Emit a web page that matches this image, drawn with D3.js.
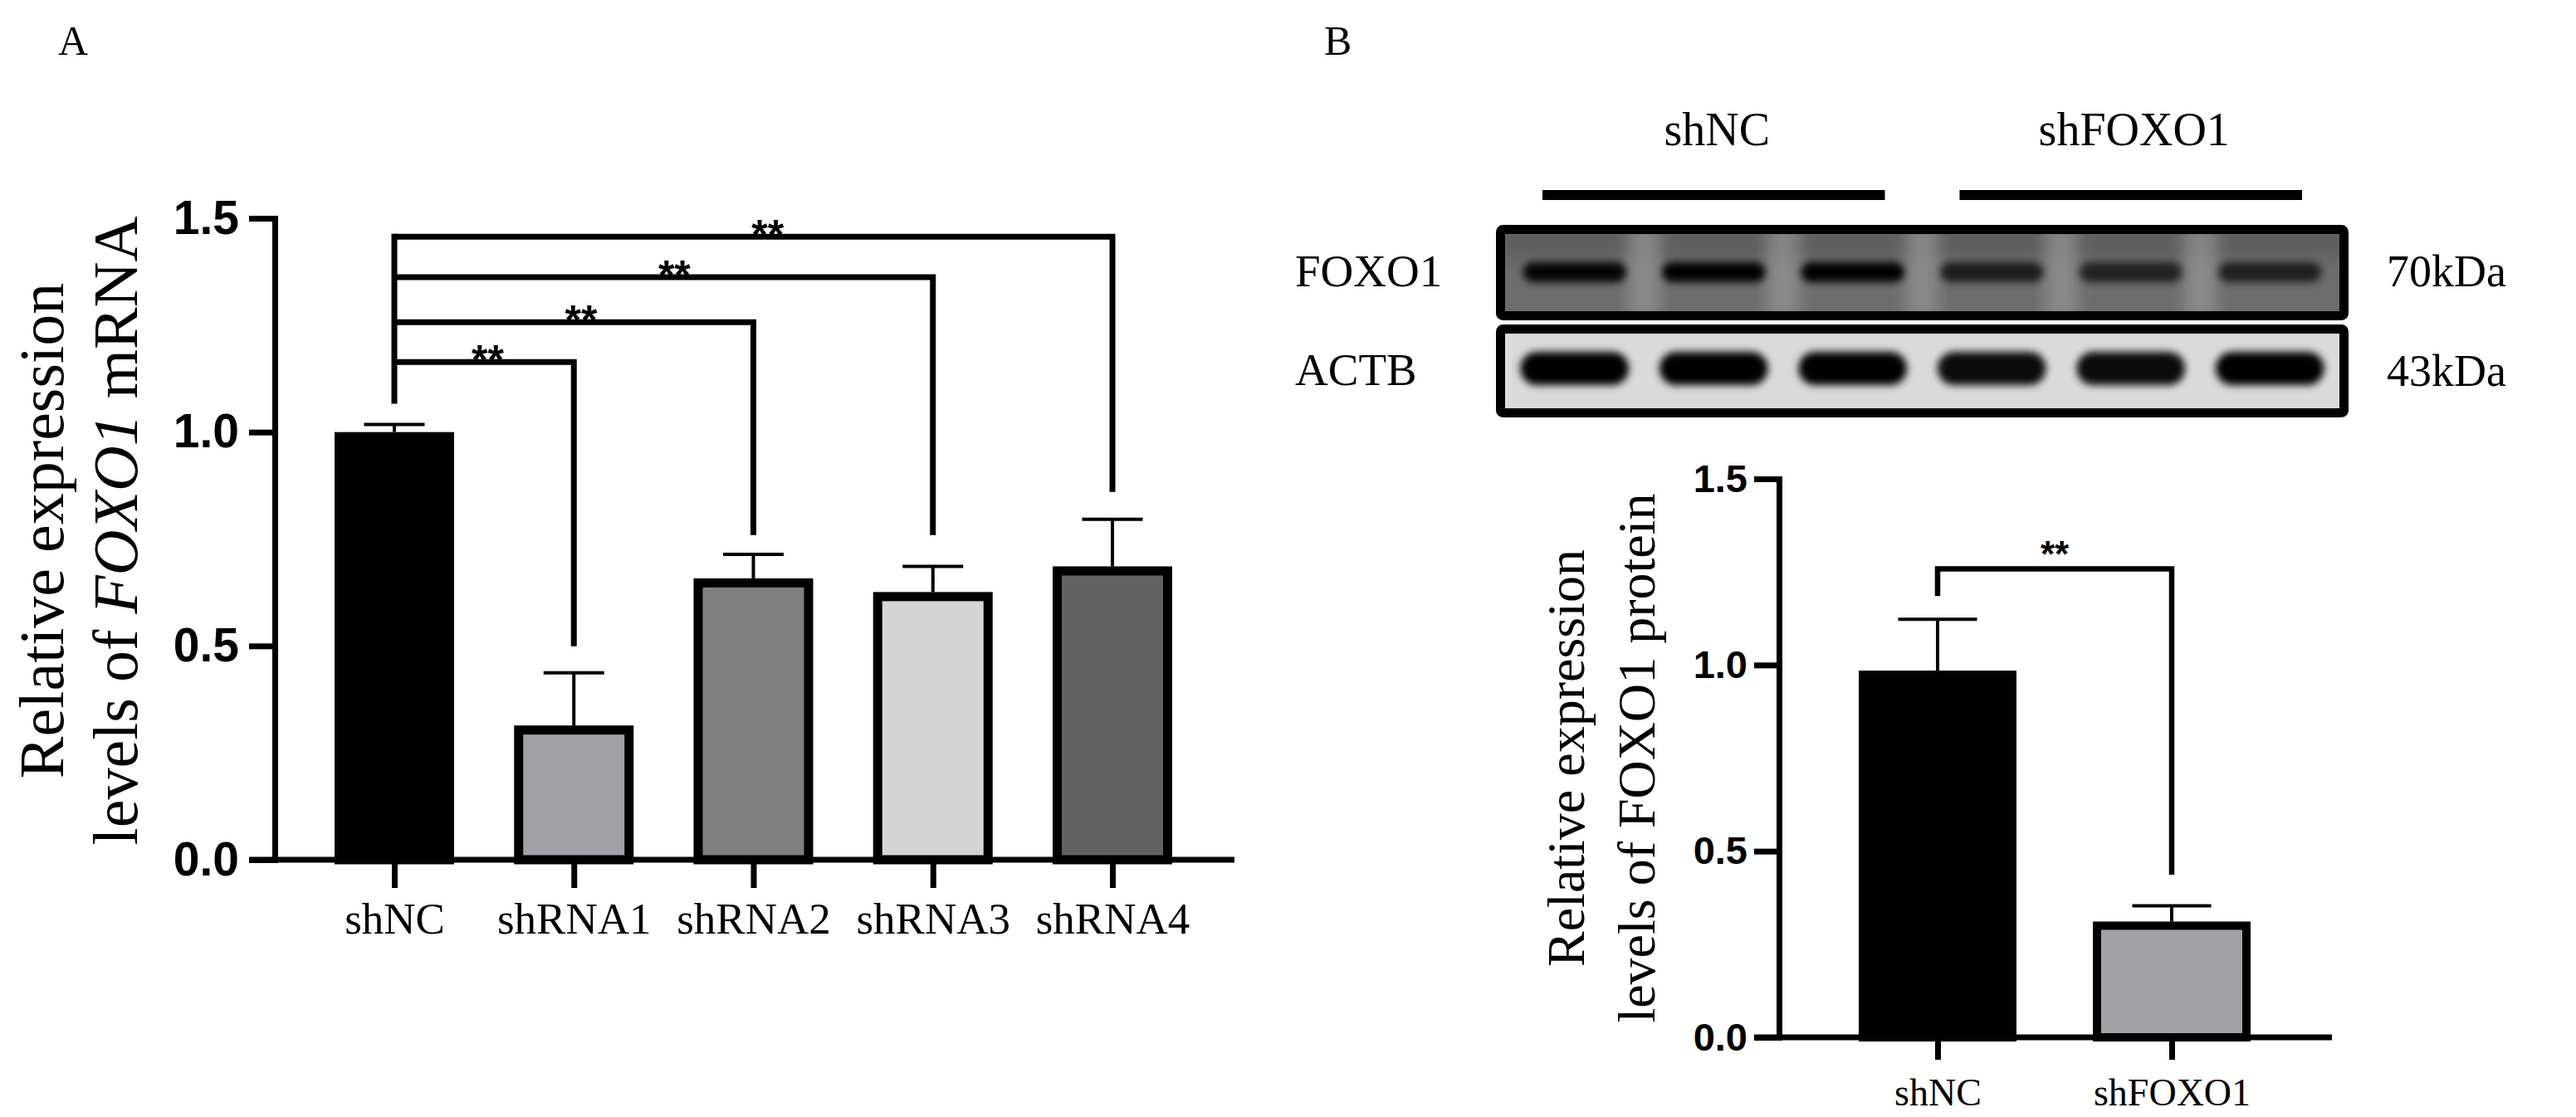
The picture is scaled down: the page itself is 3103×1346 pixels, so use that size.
<!DOCTYPE html>
<html><head><meta charset="utf-8">
<script src="https://cdn.jsdelivr.net/npm/d3@7"></script>
<style>body{margin:0;background:#fff} svg{display:block}</style>
</head><body>
<svg id="chart" width="3103" height="1346"></svg>
<script>
// ---------------- DATA ----------------
// Panel A: qPCR
const A_categories = ["shNC", "shRNA1", "shRNA2", "shRNA3", "shRNA4"];
const A_values = [1.0, 0.314, 0.658, 0.626, 0.686];
const A_errors = [0.018, 0.123, 0.056, 0.060, 0.110];
const A_fills = ["#000000", "#a1a1a5", "#808080", "#d4d4d4", "#616161"];
const A_ticks = [0, 0.5, 1.0, 1.5];
const A_bracketTargets = ["shRNA1", "shRNA2", "shRNA3", "shRNA4"];
const A_bracketLevels = [1.164, 1.257, 1.362, 1.457];
const A_bracketEnds = [0.499, 0.759, 0.759, 0.860];
const A_bracketStart = 1.073;
const A_sigLabels = ["**", "**", "**", "**"];

// Panel B: western blot quantification
const B_categories = ["shNC", "shFOXO1"];
const B_values = [0.985, 0.311];
const B_errors = [0.138, 0.042];
const B_fills = ["#000000", "#a1a1a5"];
const B_ticks = [0, 0.5, 1.0, 1.5];
const B_bracketLevel = 1.258;
const B_bracketStart = 1.185;
const B_bracketEnd = 0.437;
const B_sigLabel = "**";

// Blot
const blotGroups = ["shNC", "shFOXO1"];
const blotLaneGroup = ["shNC", "shNC", "shNC", "shFOXO1", "shFOXO1", "shFOXO1"];
const blotProteins = ["FOXO1", "ACTB"];
const blotSizes = ["70kDa", "43kDa"];
const foxo1Intensity = [0.95, 1.0, 1.0, 0.72, 0.68, 0.7];
const actbIntensity = [1.0, 1.0, 1.0, 0.95, 0.95, 1.0];

// ---------------- DRAW ----------------
const svg = d3.select("#chart");
svg.append("rect").attr("width", 3103).attr("height", 1346).attr("fill", "#fff");
const serif = "'Liberation Serif','Times New Roman',serif";
const sans = "'Liberation Sans',Arial,sans-serif";

const defs = svg.append("defs");
defs.append("filter").attr("id", "blur5").attr("x", "-50%").attr("y", "-100%").attr("width", "200%").attr("height", "300%")
  .append("feGaussianBlur").attr("stdDeviation", 5);
defs.append("filter").attr("id", "blur8").attr("x", "-50%").attr("y", "-50%").attr("width", "200%").attr("height", "200%")
  .append("feGaussianBlur").attr("stdDeviation", 9);

// Panel letters
svg.append("text").attr("x", 70).attr("y", 66).attr("font-family", serif).attr("font-size", 50).text("A");
svg.append("text").attr("x", 1595).attr("y", 66).attr("font-family", serif).attr("font-size", 50).text("B");

// ===== Panel A =====
const yA = d3.scaleLinear().domain([0, 1.5]).range([1036, 263]);
const xA = d3.scalePoint().domain(A_categories).range([475, 1340]);
const gA = svg.append("g");
const barWA = 144, swA = 11;

A_categories.forEach((c, i) => {
  const x = xA(c), yv = yA(A_values[i]);
  gA.append("rect")
    .attr("x", x - barWA / 2 + swA / 2).attr("y", yv + swA / 2)
    .attr("width", barWA - swA).attr("height", yA(0) - yv - swA / 2)
    .attr("fill", A_fills[i]).attr("stroke", "#000").attr("stroke-width", swA);
  const ye = yA(A_values[i] + A_errors[i]);
  gA.append("line").attr("x1", x).attr("x2", x).attr("y1", yv).attr("y2", ye)
    .attr("stroke", "#000").attr("stroke-width", 4);
  gA.append("line").attr("x1", x - 36.5).attr("x2", x + 36.5).attr("y1", ye).attr("y2", ye)
    .attr("stroke", "#000").attr("stroke-width", 4);
});

// y axis A
const axA = d3.axisLeft(yA).tickValues(A_ticks).tickFormat(d3.format(".1f"))
  .tickSize(31).tickPadding(12).tickSizeOuter(0);
const gyA = gA.append("g").attr("transform", "translate(331,0)").call(axA);
gyA.select(".domain").attr("stroke-width", 7).attr("stroke-linecap", "square");
gyA.selectAll(".tick line").attr("stroke-width", 7);
gyA.selectAll(".tick text").attr("font-family", sans).attr("font-weight", "bold")
  .attr("font-size", 57).attr("fill", "#000");

// x axis A
gA.append("line").attr("x1", 300).attr("x2", 1487).attr("y1", yA(0)).attr("y2", yA(0))
  .attr("stroke", "#000").attr("stroke-width", 7);
const gxA = gA.append("g").attr("transform", `translate(0,${yA(0)})`)
  .call(d3.axisBottom(xA).tickSize(34).tickSizeOuter(0));
gxA.select(".domain").remove();
gxA.selectAll(".tick line").attr("stroke-width", 7);
gxA.selectAll(".tick text").attr("font-family", serif).attr("font-size", 53).attr("fill", "#000")
  .attr("y", 89).attr("dy", null);

// brackets A
const x0A = xA(A_categories[0]);
gA.append("line").attr("x1", x0A).attr("x2", x0A)
  .attr("y1", yA(d3.max(A_bracketLevels))).attr("y2", yA(A_bracketStart))
  .attr("stroke", "#000").attr("stroke-width", 7).attr("stroke-linecap", "square");
A_bracketTargets.forEach((t, i) => {
  const x1 = xA(t), yl = yA(A_bracketLevels[i]);
  gA.append("path")
    .attr("d", `M${x0A},${yl}H${x1}V${yA(A_bracketEnds[i])}`)
    .attr("fill", "none").attr("stroke", "#000").attr("stroke-width", 7).attr("stroke-linejoin", "miter");
  gA.append("text").attr("x", (x0A + x1) / 2 + (x1 - x0A) * 0.02).attr("y", yl + 15)
    .attr("text-anchor", "middle").attr("font-family", sans).attr("font-weight", "bold")
    .attr("font-size", 50).text(A_sigLabels[i]);
});

// y title A
const midA = (yA(0) + yA(1.5)) / 2 - 10;
gA.append("text").attr("transform", `translate(76,${midA}) rotate(-90)`)
  .attr("text-anchor", "middle").attr("font-family", serif).attr("font-size", 76)
  .text("Relative expression");
const tA2 = gA.append("text").attr("transform", `translate(165,${midA}) rotate(-90)`)
  .attr("text-anchor", "middle").attr("font-family", serif).attr("font-size", 76);
tA2.append("tspan").text("levels of ");
tA2.append("tspan").attr("font-style", "italic").text("FOXO1");
tA2.append("tspan").text(" mRNA");

// ===== Blot =====
const gBl = svg.append("g");
const laneScale = d3.scaleBand().domain(d3.range(blotLaneGroup.length)).range([1813, 2818]);
const rows = [{top: 271, h: 115, bg: "#6c6c6c"}, {top: 391, h: 112, bg: "#dadada"}];
const rowBandY = [328, 444];
const rowBandH = [24, 40];
const rowIntensity = [foxo1Intensity, actbIntensity];
const boxX = 1802, boxW = 1027, boxSW = 11;

rows.forEach((r, ri) => {
  const cid = "clip" + ri;
  defs.append("clipPath").attr("id", cid).append("rect")
    .attr("x", boxX + boxSW).attr("y", r.top + boxSW).attr("width", boxW - 2 * boxSW).attr("height", r.h - 2 * boxSW);
  const g = gBl.append("g").attr("clip-path", `url(#${cid})`);
  g.append("rect").attr("x", boxX).attr("y", r.top).attr("width", boxW).attr("height", r.h).attr("fill", r.bg);
  if (ri === 0) {
    g.append("rect").attr("x", boxX).attr("y", r.top).attr("width", boxW).attr("height", 40)
      .attr("fill", "#555").attr("opacity", 0.55).attr("filter", "url(#blur8)");
    laneScale.domain().slice(1).forEach(l => {
      g.append("rect").attr("x", laneScale(l) - 20).attr("y", r.top).attr("width", 40).attr("height", r.h)
        .attr("fill", "#959595").attr("opacity", 0.7).attr("filter", "url(#blur8)");
    });
  }
  laneScale.domain().forEach(l => {
    const cx = laneScale(l) + laneScale.bandwidth() / 2;
    const w = laneScale.bandwidth() * (ri === 0 ? 0.74 : 0.78);
    g.append("rect").attr("x", cx - w / 2).attr("y", rowBandY[ri] - rowBandH[ri] / 2)
      .attr("width", w).attr("height", rowBandH[ri]).attr("rx", rowBandH[ri] / 2)
      .attr("fill", "#000").attr("opacity", rowIntensity[ri][l]).attr("filter", "url(#blur5)");
  });
  gBl.append("rect").attr("x", boxX + boxSW / 2).attr("y", r.top + boxSW / 2)
    .attr("width", boxW - boxSW).attr("height", r.h - boxSW).attr("rx", 3)
    .attr("fill", "none").attr("stroke", "#000").attr("stroke-width", boxSW);
  gBl.append("text").attr("x", 1560).attr("y", rowBandY[ri] + (ri === 0 ? 17 : 20))
    .attr("font-family", serif).attr("font-size", 55).text(blotProteins[ri]);
  gBl.append("text").attr("x", 2875).attr("y", rowBandY[ri] + (ri === 0 ? 17 : 21))
    .attr("font-family", serif).attr("font-size", 54).text(blotSizes[ri]);
});

blotGroups.forEach(gname => {
  const lanes = laneScale.domain().filter(l => blotLaneGroup[l] === gname);
  const xs = laneScale(lanes[0]) + 45;
  const xe = laneScale(lanes[lanes.length - 1]) + laneScale.bandwidth() - 45;
  gBl.append("rect").attr("x", xs).attr("y", 229).attr("width", xe - xs).attr("height", 12).attr("fill", "#000");
  gBl.append("text").attr("x", (xs + xe) / 2 + 4).attr("y", 175).attr("text-anchor", "middle")
    .attr("font-family", serif).attr("font-size", 56).text(gname);
});

// ===== Panel B chart =====
const yB = d3.scaleLinear().domain([0, 1.5]).range([1250, 577]);
const xB = d3.scalePoint().domain(B_categories).range([2334, 2616]);
const gB = svg.append("g");
const barWB = 190, swB = 10;
B_categories.forEach((c, i) => {
  const x = xB(c), yv = yB(B_values[i]);
  gB.append("rect")
    .attr("x", x - barWB / 2 + swB / 2).attr("y", yv + swB / 2)
    .attr("width", barWB - swB).attr("height", yB(0) - yv - swB / 2)
    .attr("fill", B_fills[i]).attr("stroke", "#000").attr("stroke-width", swB);
  const ye = yB(B_values[i] + B_errors[i]);
  gB.append("line").attr("x1", x).attr("x2", x).attr("y1", yv).attr("y2", ye)
    .attr("stroke", "#000").attr("stroke-width", 4);
  gB.append("line").attr("x1", x - 47.5).attr("x2", x + 47.5).attr("y1", ye).attr("y2", ye)
    .attr("stroke", "#000").attr("stroke-width", 4);
});

const axB = d3.axisLeft(yB).tickValues(B_ticks).tickFormat(d3.format(".1f"))
  .tickSize(30).tickPadding(8).tickSizeOuter(0);
const gyB = gB.append("g").attr("transform", "translate(2143,0)").call(axB);
gyB.select(".domain").attr("stroke-width", 7).attr("stroke-linecap", "square");
gyB.selectAll(".tick line").attr("stroke-width", 7);
gyB.selectAll(".tick text").attr("font-family", sans).attr("font-weight", "bold")
  .attr("font-size", 47).attr("fill", "#000");

gB.append("line").attr("x1", 2113).attr("x2", 2809).attr("y1", yB(0)).attr("y2", yB(0))
  .attr("stroke", "#000").attr("stroke-width", 7);
const gxB = gB.append("g").attr("transform", `translate(0,${yB(0)})`)
  .call(d3.axisBottom(xB).tickSize(27).tickSizeOuter(0));
gxB.select(".domain").remove();
gxB.selectAll(".tick line").attr("stroke-width", 7);
gxB.selectAll(".tick text").attr("font-family", serif).attr("font-size", 46).attr("fill", "#000")
  .attr("y", 82).attr("dy", null);

const xb0 = xB(B_categories[0]), xb1 = xB(B_categories[1]);
gB.append("path")
  .attr("d", `M${xb0},${yB(B_bracketStart)}V${yB(B_bracketLevel)}H${xb1}V${yB(B_bracketEnd)}`)
  .attr("fill", "none").attr("stroke", "#000").attr("stroke-width", 6.5).attr("stroke-linejoin", "miter");
gB.append("text").attr("x", (xb0 + xb1) / 2).attr("y", yB(B_bracketLevel) - 3)
  .attr("text-anchor", "middle").attr("font-family", sans).attr("font-weight", "bold")
  .attr("font-size", 44).text(B_sigLabel);

const midB = (yB(0) + yB(1.5)) / 2;
gB.append("text").attr("transform", `translate(1908,${midB}) rotate(-90)`)
  .attr("text-anchor", "middle").attr("font-family", serif).attr("font-size", 64)
  .text("Relative expression");
gB.append("text").attr("transform", `translate(1993,${midB}) rotate(-90)`)
  .attr("text-anchor", "middle").attr("font-family", serif).attr("font-size", 64)
  .text("levels of FOXO1 protein");
</script>
</body></html>
